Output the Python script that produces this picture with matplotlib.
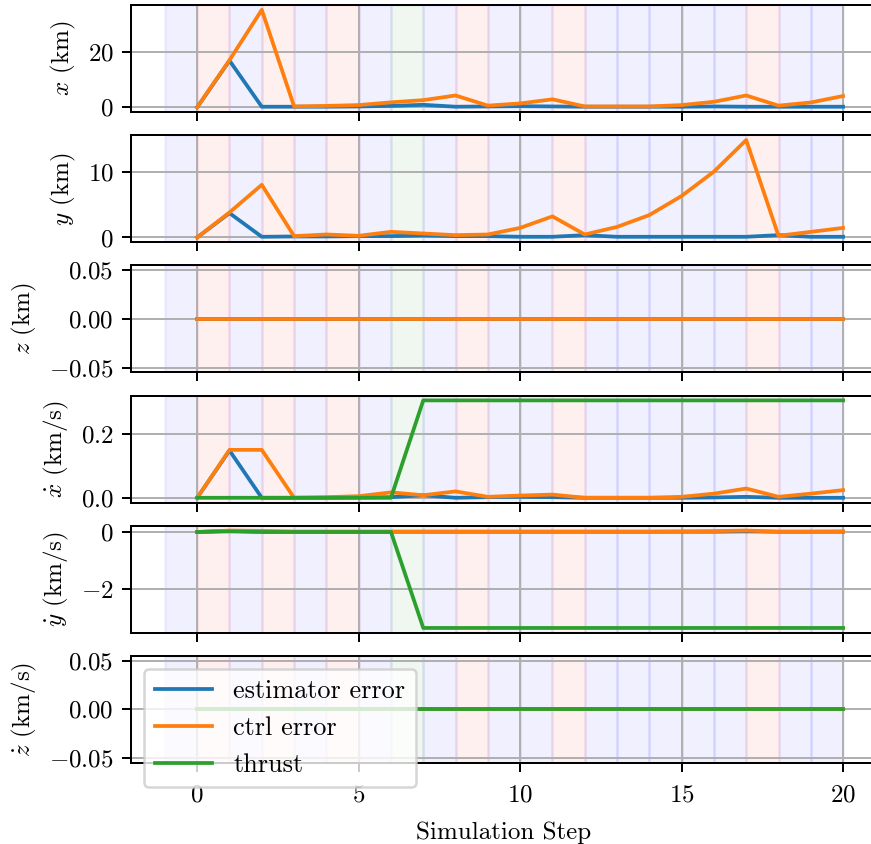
#! /usr/bin/env python3
import numpy as np
import matplotlib
matplotlib.use('Agg')
import matplotlib.pyplot as plt

plt.rcParams['font.family'] = 'serif'
plt.rcParams['font.serif'] = ['cmr10']
plt.rcParams['mathtext.fontset'] = 'cm'
plt.rcParams['axes.formatter.use_mathtext'] = True
plt.rcParams['font.size'] = 10

DPI = 180

steps = list(range(21))

# colour of background span [k-1, k] for k = 0..20
span_colors = ['b', 'r', 'b', 'r', 'b', 'r', 'b', 'g', 'b', 'r', 'b',
               'b', 'r', 'b', 'b', 'b', 'b', 'b', 'r', 'b', 'b']

est_x = [0, 17, 0.2, 0.2, 0.2, 0.3, 0.5, 0.9, 0.2, 0.3, 0.4,
         0.3, 0.2, 0.2, 0.2, 0.2, 0.3, 0.2, 0.2, 0.2, 0.2]
ctrl_x = [0, 17.2, 35.5, 0.3, 0.5, 0.8, 1.8, 2.6, 4.3, 0.6, 1.4,
          2.9, 0.3, 0.3, 0.3, 0.8, 2.0, 4.3, 0.6, 1.75, 4.1]

est_y = [0, 3.7, 0.1, 0.15, 0.15, 0.2, 0.2, 0.3, 0.2, 0.2, 0.1,
         0.1, 0.35, 0.1, 0.1, 0.1, 0.1, 0.1, 0.35, 0.1, 0.1]
ctrl_y = [0, 3.8, 8.0, 0.2, 0.45, 0.25, 0.85, 0.6, 0.35, 0.45, 1.45,
          3.2, 0.45, 1.6, 3.4, 6.3, 10.0, 14.8, 0.25, 0.85, 1.45]

est_z = [0.0] * 21
ctrl_z = [0.0] * 21

est_vx = [0, 0.148, 0, 0, 0, 0.001, 0.002, 0.008, 0, 0.002, 0.003,
          0.002, 0, 0, 0, 0, 0.001, 0.003, 0, 0, 0]
ctrl_vx = [0, 0.15, 0.15, 0.0, 0.002, 0.005, 0.017, 0.008, 0.02, 0.003, 0.007,
           0.01, 0.0, 0.0, 0.0, 0.003, 0.013, 0.029, 0.003, 0.013, 0.024]
thrust_vx = [0, 0, 0, 0, 0, 0, 0, 0.305, 0.305, 0.305, 0.305,
             0.305, 0.305, 0.305, 0.305, 0.305, 0.305, 0.305, 0.305, 0.305, 0.305]

est_vy = [0, 0.04, 0.01, 0.01, 0.01, 0.01, 0.01, 0.01, 0.01, 0.01, 0.01,
          0.01, 0.01, 0.01, 0.01, 0.01, 0.01, 0.02, 0.01, 0.01, 0.01]
ctrl_vy = [0, 0.05, 0.04, 0.01, 0.01, 0.01, 0.01, 0.01, 0.01, 0.01, 0.01,
           0.01, 0.01, 0.01, 0.01, 0.02, 0.03, 0.05, 0.01, 0.01, 0.02]
thrust_vy = [0, 0.02, 0, 0, 0, 0, 0, -3.37, -3.37, -3.37, -3.37,
             -3.37, -3.37, -3.37, -3.37, -3.37, -3.37, -3.37, -3.37, -3.37, -3.37]

est_vz = [0.0] * 21
ctrl_vz = [0.0] * 21
thrust_vz = [0.0] * 21

ylabels = [r'$x$ (km)', r'$y$ (km)', r'$z$ (km)',
           r'$\dot{x}$ (km/s)', r'$\dot{y}$ (km/s)', r'$\dot{z}$ (km/s)']


def main():
    fig, axes = plt.subplots(6, 1, sharex=True, figsize=(871 / DPI, 844 / DPI), dpi=DPI)
    fig.subplots_adjust(left=131 / 871, right=877 / 871, top=1 - 5 / 844,
                        bottom=1 - 763 / 844, hspace=0.215)

    rows = [
        (est_x, ctrl_x, None),
        (est_y, ctrl_y, None),
        (est_z, ctrl_z, None),
        (est_vx, ctrl_vx, thrust_vx),
        (est_vy, ctrl_vy, thrust_vy),
        (est_vz, ctrl_vz, thrust_vz),
    ]

    for ax, (est, ctrl, thrust), lab in zip(axes, rows, ylabels):
        for k, c in enumerate(span_colors):
            ax.axvspan(k - 1, k, color=c, alpha=0.06)
        ax.plot(steps, est, color='C0', label='estimator error')
        ax.plot(steps, ctrl, color='C1', label='ctrl error')
        if thrust is not None:
            ax.plot(steps, thrust, color='C2', label='thrust')
        ax.grid(True)
        ax.set_ylabel(lab)

    axes[0].set_yticks([0, 20])
    axes[1].set_yticks([0, 10])
    axes[3].set_yticks([0.0, 0.2])
    axes[4].set_yticks([-2, 0])
    axes[-1].set_xticks([0, 5, 10, 15, 20])
    axes[-1].tick_params(axis='x', pad=5)
    axes[-1].set_xlabel('Simulation Step', labelpad=6)
    axes[-1].legend(loc='upper left', fontsize=10.5, handlelength=2.2)

    plt.savefig('out.png', dpi=DPI)


if __name__ == '__main__':
    main()
